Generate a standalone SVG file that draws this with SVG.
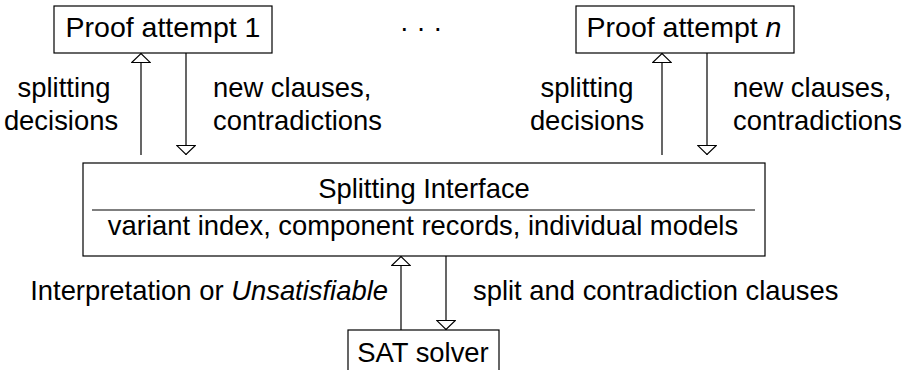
<svg xmlns="http://www.w3.org/2000/svg" width="907" height="370" viewBox="0 0 907 370">
<defs>
<style>
text{font-family:"Liberation Sans",Arial,sans-serif;font-size:27.4px;fill:#000}
.big{font-size:28.5px}
.box{fill:#fff;stroke:#000;stroke-width:1.2}
.ln{fill:none;stroke:#000;stroke-width:1.2}
.mid{text-anchor:middle}
</style>
<marker id="ah" viewBox="0 0 10 20" refX="10" refY="10" markerWidth="10" markerHeight="20" markerUnits="userSpaceOnUse" orient="auto">
<path d="M0.5,0.7 L9.5,10 L0.5,19.3 Z" fill="#fff" stroke="#000" stroke-width="1.1"/>
</marker>
</defs>
<rect width="907" height="370" fill="#fff"/>
<g id="connectors">
<line class="ln" x1="141" y1="155" x2="141" y2="53" marker-end="url(#ah)"/>
<line class="ln" x1="186" y1="53" x2="186" y2="155" marker-end="url(#ah)"/>
<line class="ln" x1="662" y1="155" x2="662" y2="53" marker-end="url(#ah)"/>
<line class="ln" x1="707" y1="53" x2="707" y2="155" marker-end="url(#ah)"/>
<line class="ln" x1="401" y1="330" x2="401" y2="256" marker-end="url(#ah)"/>
<line class="ln" x1="446" y1="256" x2="446" y2="330" marker-end="url(#ah)"/>
<text class="mid" x="64" y="97">splitting</text>
<text class="mid" x="61" y="130">decisions</text>
<text x="213" y="97">new clauses,</text>
<text x="213" y="130">contradictions</text>
<text class="mid" x="587" y="97">splitting</text>
<text class="mid" x="587" y="130">decisions</text>
<text x="733" y="97">new clauses,</text>
<text x="733" y="130">contradictions</text>
<text x="388" y="300" text-anchor="end">Interpretation or <tspan font-style="italic">Unsatisfiable</tspan></text>
<text x="473" y="300">split and contradiction clauses</text>
</g>
<g id="proof1">
<rect class="box" x="54" y="6" width="218" height="47"/>
<text class="mid big" x="163" y="37">Proof attempt 1</text>
</g>
<g id="dots">
<text class="mid" x="421" y="37">· · ·</text>
</g>
<g id="proofn">
<rect class="box" x="576" y="6" width="218" height="47"/>
<text class="mid big" x="684" y="37">Proof attempt <tspan font-style="italic">n</tspan></text>
</g>
<g id="interface">
<rect class="box" x="83" y="163" width="682" height="93"/>
<line class="ln" x1="92" y1="210" x2="755" y2="210"/>
<text class="mid" x="424" y="198">Splitting Interface</text>
<text class="mid" x="423" y="235">variant index, component records, individual models</text>
</g>
<g id="sat">
<rect class="box" x="348" y="330" width="151" height="50"/>
<text class="mid" x="423" y="362">SAT solver</text>
</g>
</svg>
